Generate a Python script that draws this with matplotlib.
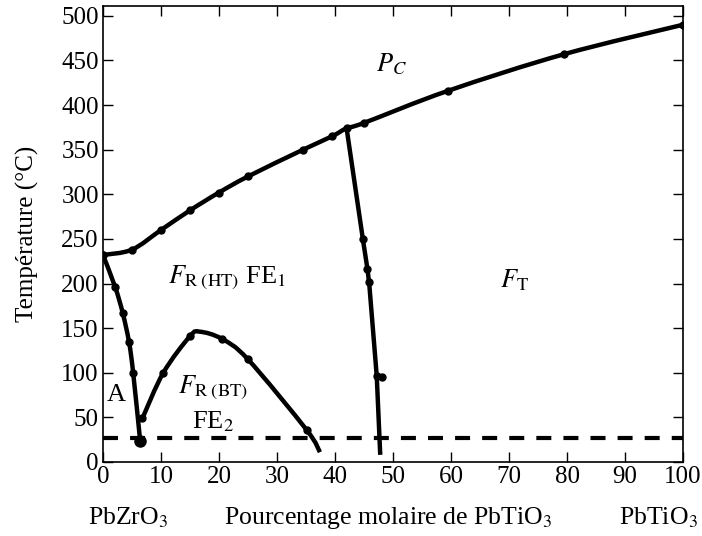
import numpy as np
import matplotlib
matplotlib.use("Agg")
import matplotlib.pyplot as plt
from matplotlib.path import Path
import matplotlib.patches as mpatches

plt.rcParams['font.family'] = ['Liberation Serif', 'DejaVu Serif']
plt.rcParams['mathtext.fontset'] = 'stix'

# Curie line (paraelectric boundary)
pc_x = [0, 5, 10, 15, 20, 25, 34.5, 39.5, 42, 45, 59.5, 79.5, 100]
pc_y = [232, 238, 260, 282, 302, 320, 350, 365, 374, 380, 416, 457, 490]

# morphotropic boundary
mpb_x = [42, 44.8, 45.6, 45.9, 47.2, 47.8]
mpb_y = [374, 250, 216, 200, 96, 8]
mpb_mark_x = [44.8, 45.6, 45.8, 47.2, 48.1]
mpb_mark_y = [250, 216, 202, 96, 95]

# antiferroelectric boundary
afe_x = [0, 2.1, 3.4, 4.5, 5.2, 6.4]
afe_y = [232, 196, 167, 134, 100, 24]

# FE1 / FE2 dome
fe_x = [6.8, 10.4, 15, 16.7, 20.5, 25, 35.1, 37.4]
fe_y = [49, 100, 141, 146, 138, 115, 36, 11]
fe_mark_x = [6.8, 10.4, 15, 20.5, 25, 35.1]
fe_mark_y = [49, 100, 141, 138, 115, 36]

room_t = 27


def smooth_path(xs, ys):
    # catmull-rom through the points, drawn as cubic bezier segments
    p = np.column_stack([xs, ys]).astype(float)
    n = len(p)
    verts = [p[0]]
    codes = [Path.MOVETO]
    for i in range(n - 1):
        p0 = p[i - 1] if i > 0 else p[i]
        p3 = p[i + 2] if i + 2 < n else p[i + 1]
        c1 = p[i] + (p[i + 1] - p0) / 6.0
        c2 = p[i + 1] - (p3 - p[i]) / 6.0
        verts += [c1, c2, p[i + 1]]
        codes += [Path.CURVE4] * 3
    return Path(verts, codes)


fig = plt.figure(figsize=(7.02, 5.36), dpi=100)
ax = fig.add_axes([103 / 702, 1 - 462 / 536, 580 / 702, 456 / 536])

lw = 3.2
for xs, ys in [(pc_x, pc_y), (afe_x, afe_y), (fe_x, fe_y)]:
    ax.add_patch(mpatches.PathPatch(smooth_path(xs, ys), fill=False,
                                    edgecolor='black', lw=lw, capstyle='butt'))
ax.plot(pc_x, pc_y, 'o', color='black', ms=5)
ax.plot(mpb_x, mpb_y, color='black', lw=lw, solid_capstyle='butt')
ax.plot(mpb_mark_x, mpb_mark_y, 'o', color='black', ms=5)
ax.plot(afe_x, afe_y, 'o', color='black', ms=5)
ax.plot(afe_x[-1:], afe_y[-1:], 'o', color='black', ms=8)
ax.plot(fe_mark_x, fe_mark_y, 'o', color='black', ms=5)
ax.plot([0, 100], [room_t, room_t], color='black', lw=3, dashes=(3.6, 2.9))

ax.set_xlim(0, 100)
ax.set_ylim(0, 511)
ax.set_xticks(np.arange(0, 101, 10))
ax.set_yticks(np.arange(0, 501, 50))
ax.tick_params(direction='in', length=7, width=1, labelsize=18,
               top=True, right=True, pad=3)
for s in ax.spines.values():
    s.set_linewidth(1.2)

ax.set_ylabel('Température (°C)', fontsize=18, labelpad=16)

fs = 19
ax.text(49.7, 446, r'$P_C$', fontsize=fs, ha='center', va='center')
ax.text(21.4, 206, r'$F_{\mathrm{R\ (HT)}}$ FE$_1$', fontsize=fs, ha='center', va='center')
ax.text(71, 204, r'$F_{\mathrm{T}}$', fontsize=fs, ha='center', va='center')
ax.text(2.2, 75, 'A', fontsize=fs, ha='center', va='center')
ax.text(19, 83, r'$F_{\mathrm{R\ (BT)}}$', fontsize=fs, ha='center', va='center')
ax.text(19, 45, r'FE$_2$', fontsize=fs, ha='center', va='center')

fig.text(128 / 702, 1 - 518 / 536, r'PbZrO$_3$', fontsize=18.5, ha='center', va='center')
fig.text(388 / 702, 1 - 518 / 536, r'Pourcentage molaire de PbTiO$_3$', fontsize=18.5,
         ha='center', va='center')
fig.text(698 / 702, 1 - 518 / 536, r'PbTiO$_3$', fontsize=18.5, ha='right', va='center')

fig.savefig('out.png', dpi=100)
